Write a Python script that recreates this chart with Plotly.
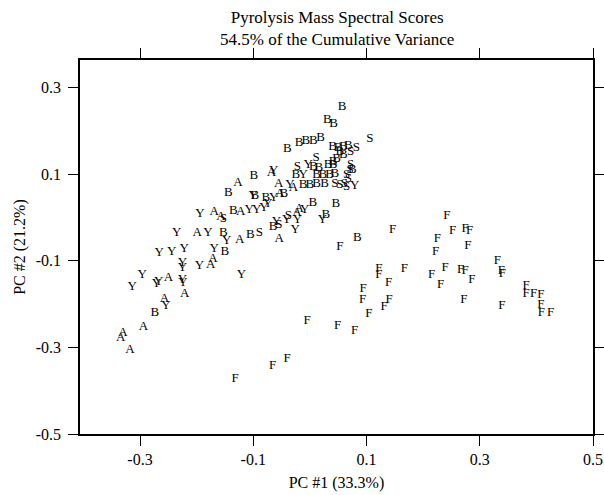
import plotly.graph_objects as go

# PC scores, per class label
A_x = [-0.127, -0.068, -0.055, -0.053, -0.023, -0.169, -0.157, -0.122, -0.199, -0.124, -0.054,
       -0.171, -0.175, -0.250, -0.221, -0.257, -0.294, -0.330, -0.334, -0.318, -0.019, -0.029]
A_y = [0.081, 0.104, 0.078, 0.054, 0.012, 0.014, 0.001, 0.014, -0.036, -0.052, -0.050,
       -0.096, -0.109, -0.139, -0.177, -0.188, -0.252, -0.266, -0.277, -0.306, 0.021, 0.068]

B_x = [0.057, 0.031, 0.042, -0.040, -0.019, -0.007, 0.006, 0.019, 0.040, 0.050, 0.059, 0.068,
       0.053, 0.059, 0.047, 0.041, 0.006, 0.016, 0.032, 0.041, 0.075, -0.025, 0.012, 0.023,
       0.035, 0.044, -0.012, 0.000, 0.012, 0.026, 0.005, 0.046, 0.028, 0.084, -0.099, -0.144,
       -0.097, -0.078, -0.046, -0.135, -0.065, -0.153, -0.105, -0.150, -0.274]
B_y = [0.255, 0.225, 0.216, 0.160, 0.172, 0.177, 0.178, 0.185, 0.164, 0.162, 0.164, 0.166,
       0.152, 0.145, 0.137, 0.129, 0.118, 0.115, 0.123, 0.122, 0.110, 0.098, 0.098, 0.098,
       0.098, 0.102, 0.075, 0.075, 0.077, 0.077, 0.034, 0.033, 0.006, -0.046, 0.096, 0.058,
       0.050, 0.046, 0.056, 0.015, -0.021, -0.036, -0.040, -0.079, -0.221]

S_x = [0.106, 0.082, 0.072, 0.011, -0.022, 0.072, 0.071, 0.065, 0.068, 0.061, 0.053, 0.044,
       0.065, -0.038, -0.055, -0.089, -0.153]
S_y = [0.182, 0.161, 0.152, 0.138, 0.118, 0.122, 0.110, 0.098, 0.089, 0.079, 0.075, 0.079,
       0.071, 0.004, -0.017, -0.036, -0.003]

Y_x = [-0.003, -0.012, 0.079, -0.035, -0.009, -0.022, -0.026, 0.022, -0.064, -0.064, -0.074,
       -0.059, -0.041, -0.107, -0.094, -0.194, -0.180, -0.147, -0.100, -0.235, -0.266, -0.244,
       -0.222, -0.169, -0.225, -0.225, -0.195, -0.296, -0.314, -0.271, -0.267, -0.225, -0.224,
       -0.121, -0.254, -0.081]
Y_y = [0.123, 0.100, 0.074, 0.075, 0.019, -0.006, -0.027, -0.004, 0.108, 0.045, 0.033,
       -0.009, -0.006, 0.019, 0.018, 0.008, -0.035, -0.054, 0.050, -0.034, -0.082, -0.079,
       -0.073, -0.073, -0.105, -0.116, -0.112, -0.133, -0.160, -0.152, -0.148, -0.144, -0.150,
       -0.133, -0.204, 0.022]

F_x = [-0.132, -0.066, -0.040, -0.005, 0.049, 0.079, 0.053, 0.122, 0.122, 0.139, 0.094, 0.093,
       0.140, 0.131, 0.104, 0.146, 0.167, 0.242, 0.252, 0.274, 0.282, 0.225, 0.279, 0.222,
       0.239, 0.215, 0.266, 0.274, 0.286, 0.231, 0.272, 0.331, 0.338, 0.340, 0.339, 0.382,
       0.382, 0.395, 0.408, 0.408, 0.409, 0.425]
F_y = [-0.373, -0.343, -0.326, -0.239, -0.249, -0.262, -0.067, -0.119, -0.133, -0.150, -0.165,
       -0.189, -0.190, -0.207, -0.222, -0.027, -0.119, 0.004, -0.031, -0.025, -0.031, -0.049,
       -0.066, -0.080, -0.115, -0.131, -0.121, -0.123, -0.144, -0.156, -0.189, -0.100, -0.123,
       -0.130, -0.204, -0.158, -0.175, -0.175, -0.179, -0.202, -0.220, -0.221]

groups = [("A", A_x, A_y), ("B", B_x, B_y), ("S", S_x, S_y), ("Y", Y_x, Y_y), ("F", F_x, F_y)]

x_ticks = [-0.3, -0.1, 0.1, 0.3, 0.5]
y_ticks = [-0.5, -0.3, -0.1, 0.1, 0.3]

title_lines = ["Pyrolysis Mass Spectral Scores", "54.5% of the Cumulative Variance"]
x_title = "PC #1 (33.3%)"
y_title = "PC #2 (21.2%)"

FONT = "Liberation Serif, Times New Roman, serif"

fig = go.Figure()
for label, xs, ys in groups:
    fig.add_trace(go.Scatter(
        x=xs, y=ys, mode="text", text=[label] * len(xs),
        textposition="middle center",
        textfont=dict(family=FONT, size=13, color="black"),
        name=label, showlegend=False, hoverinfo="x+y+text",
    ))

axis_common = dict(
    showline=True, linecolor="black", linewidth=1.5, mirror="ticks",
    ticks="outside", ticklen=10, tickwidth=1.2, tickcolor="black",
    showgrid=False, zeroline=False, automargin=False,
    tickfont=dict(family=FONT, size=16, color="black"),
)

fig.update_xaxes(range=[-0.406, 0.5], tickvals=x_ticks, ticktext=[f"{v:.1f}" for v in x_ticks],
                 title=dict(text=x_title, font=dict(family=FONT, size=16, color="black"), standoff=10),
                 **axis_common)
fig.update_yaxes(range=[-0.5, 0.364], tickvals=y_ticks, ticktext=[f"{v:.1f}" for v in y_ticks],
                 ticklabelstandoff=4,
                 title=dict(text=y_title, font=dict(family=FONT, size=16, color="black"), standoff=6),
                 **axis_common)

fig.add_annotation(text=title_lines[0] + "<br>" + title_lines[1], xref="paper", yref="paper",
                   x=0.5, y=1.0, yshift=54, xanchor="center", yanchor="top", showarrow=False,
                   font=dict(family=FONT, size=17, color="black"))

fig.update_layout(
    width=604, height=495,
    margin=dict(l=80, r=11, t=60, b=61),
    plot_bgcolor="white", paper_bgcolor="white",
)

fig.write_html("out.html")
